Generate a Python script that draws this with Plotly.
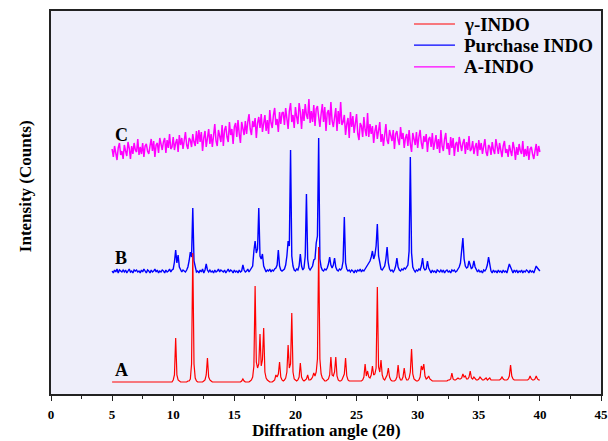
import numpy as np
import plotly.graph_objects as go

# 2-theta scan grid shared by the three patterns: 5.0 ... 40.0 deg, step 0.1
scan_start = 5.0
scan_step = 0.1
scan_points = 351
two_theta = np.round(scan_start + scan_step * np.arange(scan_points), 1)

series_names = ["γ-INDO", "Purchase INDO", "A-INDO"]
series_colors = ["#FF0000", "#0000FF", "#FF00FF"]
curve_labels = ["A", "B", "C"]

# A : gamma-INDO (red), one row per degree
A_counts = [
    12, 12, 12, 12, 12, 12, 12, 12, 12, 12,
    12, 12, 12, 12, 12, 12, 12, 12, 12, 12,
    12, 12, 12, 12, 12, 12, 12, 12, 12, 12,
    12, 12, 12, 12, 12, 12, 12, 12, 12, 12,
    12, 12, 12, 12, 12, 12, 12, 12, 12, 12,
    14, 19, 56, 19, 14, 13, 12, 12, 12, 12,
    12, 12, 13, 13, 15, 30, 141, 30, 16, 13,
    12, 12, 12, 12, 12, 13, 14, 19, 36, 17,
    14, 13, 12, 12, 12, 12, 12, 12, 12, 12,
    12, 12, 12, 12, 12, 12, 12, 12, 12, 12,
    12, 12, 12, 12, 12, 12, 13, 15, 13, 12,
    12, 12, 12, 13, 14, 17, 28, 108, 32, 26,
    30, 60, 28, 34, 66, 22, 16, 14, 13, 12,
    12, 12, 13, 14, 19, 17, 20, 32, 17, 14,
    13, 14, 16, 22, 49, 26, 30, 81, 22, 15,
    14, 13, 14, 17, 31, 17, 14, 13, 14, 15,
    19, 14, 14, 15, 17, 21, 18, 22, 35, 147,
    35, 20, 16, 14, 13, 13, 14, 15, 19, 37,
    19, 18, 22, 37, 18, 14, 13, 13, 14, 17,
    20, 36, 18, 14, 13, 13, 13, 13, 13, 13,
    13, 13, 13, 13, 13, 14, 17, 30, 18, 23,
    17, 16, 19, 28, 19, 20, 26, 107, 27, 22,
    34, 19, 15, 14, 16, 19, 26, 17, 14, 13,
    13, 13, 14, 17, 29, 17, 14, 14, 17, 26,
    17, 14, 14, 16, 22, 45, 20, 15, 14, 13,
    13, 14, 17, 28, 24, 30, 18, 15, 16, 18,
    15, 14, 13, 13, 13, 13, 13, 13, 13, 13,
    13, 13, 13, 13, 13, 14, 14, 15, 21, 15,
    14, 14, 15, 16, 15, 15, 16, 20, 17, 18,
    15, 15, 17, 23, 16, 15, 17, 15, 14, 14,
    15, 17, 15, 14, 14, 15, 16, 14, 15, 16,
    14, 14, 14, 14, 14, 14, 14, 14, 15, 17,
    15, 14, 14, 14, 15, 18, 29, 18, 15, 14,
    14, 14, 14, 14, 14, 14, 14, 14, 14, 14,
    14, 15, 18, 15, 14, 14, 15, 18, 15, 14,
    14,
]

# B : purchased INDO (blue)
B_counts = [
    123, 121, 124, 122, 125, 121, 124, 123, 122, 124,
    122, 124, 121, 123, 125, 122, 123, 121, 124, 123,
    124, 122, 123, 121, 124, 122, 125, 123, 121, 124,
    123, 121, 124, 122, 123, 125, 122, 124, 121, 123,
    122, 124, 123, 121, 124, 122, 123, 125, 122, 124,
    125, 132, 144, 131, 139, 127, 124, 122, 124, 123,
    122, 124, 127, 133, 142, 137, 186, 133, 126, 122,
    123, 121, 124, 122, 125, 121, 124, 130, 124, 122,
    124, 122, 123, 121, 124, 122, 123, 125, 122, 124,
    123, 122, 124, 121, 123, 125, 122, 124, 123, 121,
    124, 122, 123, 121, 124, 122, 123, 129, 124, 122,
    123, 125, 122, 124, 126, 128, 143, 153, 141, 145,
    186, 138, 135, 140, 128, 124, 122, 124, 123, 125,
    122, 124, 123, 125, 126, 129, 144, 128, 124, 123,
    124, 125, 129, 138, 153, 148, 244, 138, 128, 124,
    123, 125, 124, 128, 140, 128, 124, 126, 138, 200,
    135, 126, 124, 126, 128, 134, 135, 151, 158, 256,
    135, 127, 124, 123, 125, 124, 126, 130, 137, 129,
    126, 129, 136, 127, 124, 123, 125, 124, 126, 133,
    177, 131, 125, 123, 124, 122, 124, 123, 121, 124,
    122, 124, 123, 125, 122, 124, 123, 125, 127, 129,
    131, 133, 137, 143, 135, 139, 148, 170, 138, 129,
    125, 124, 126, 128, 135, 147, 131, 125, 123, 124,
    122, 124, 128, 136, 127, 124, 123, 125, 124, 126,
    125, 127, 129, 143, 237, 141, 127, 124, 122, 124,
    123, 125, 124, 128, 136, 126, 124, 125, 133, 126,
    123, 121, 124, 122, 123, 121, 124, 123, 122, 124,
    122, 124, 121, 123, 124, 122, 123, 121, 124, 123,
    124, 122, 123, 125, 127, 131, 143, 156, 135, 128,
    126, 127, 133, 128, 125, 127, 133, 127, 124, 122,
    124, 122, 123, 121, 124, 123, 125, 129, 137, 127,
    123, 121, 124, 122, 123, 121, 124, 122, 123, 121,
    124, 122, 123, 121, 127, 130, 127, 123, 121, 124,
    122, 124, 121, 123, 122, 124, 121, 123, 122, 124,
    123, 121, 124, 122, 123, 121, 126, 128, 126, 124,
    123,
]

# C : amorphous INDO (magenta), broad halo with noise
C_counts = [
    245, 237, 248, 240, 234, 246, 251, 239, 243, 235,
    249, 243, 238, 252, 246, 235, 248, 240, 251, 244,
    242, 255, 239, 247, 240, 251, 237, 248, 250, 243,
    240, 248, 255, 243, 253, 237, 249, 251, 241, 256,
    248, 244, 252, 256, 241, 254, 246, 260, 245, 247,
    257, 244, 251, 255, 242, 259, 249, 256, 245, 253,
    262, 249, 245, 256, 254, 247, 260, 252, 248, 263,
    250, 264, 252, 262, 243, 256, 263, 247, 259, 265,
    250, 260, 247, 262, 270, 253, 248, 264, 257, 252,
    269, 248, 264, 268, 257, 252, 272, 259, 265, 250,
    267, 271, 257, 274, 260, 251, 272, 265, 259, 273,
    260, 272, 280, 265, 259, 273, 267, 276, 256, 271,
    277, 266, 280, 262, 270, 279, 263, 274, 260, 284,
    271, 266, 279, 286, 269, 275, 262, 282, 270, 281,
    282, 269, 286, 274, 265, 283, 291, 272, 279, 266,
    287, 277, 270, 291, 282, 265, 285, 273, 290, 279,
    275, 295, 271, 283, 272, 289, 268, 285, 288, 277,
    267, 280, 290, 272, 287, 263, 281, 284, 269, 292,
    273, 267, 280, 286, 263, 283, 270, 292, 269, 272,
    279, 259, 270, 276, 256, 282, 267, 278, 261, 273,
    280, 260, 254, 271, 268, 257, 277, 264, 258, 281,
    257, 270, 260, 268, 251, 263, 269, 255, 266, 272,
    252, 260, 248, 263, 270, 254, 250, 264, 258, 253,
    264, 245, 260, 263, 254, 249, 267, 255, 261, 246,
    256, 260, 248, 264, 250, 242, 261, 255, 249, 262,
    246, 257, 264, 251, 245, 258, 252, 260, 242, 255,
    257, 247, 261, 244, 251, 259, 245, 255, 241, 264,
    248, 243, 255, 261, 245, 251, 239, 257, 246, 256,
    238, 250, 252, 242, 257, 247, 243, 251, 255, 240,
    252, 244, 258, 243, 245, 253, 240, 247, 251, 238,
    254, 244, 251, 240, 248, 255, 242, 238, 249, 247,
    239, 252, 244, 240, 255, 248, 240, 251, 243, 237,
    248, 253, 241, 245, 237, 249, 243, 238, 252, 246,
    234, 247, 239, 250, 243, 240, 253, 237, 245, 238,
    248, 234, 245, 247, 240, 235, 243, 250, 238, 248,
    242,
]

# label anchor points (2theta, counts) for the curve letters
label_x = [5.75, 5.75, 5.75]
label_y = [24, 136, 259]

x_range = [0, 45]
y_range = [0, 383]
x_ticks = [0, 5, 10, 15, 20, 25, 30, 35, 40, 45]

assert len(A_counts) == len(B_counts) == len(C_counts) == scan_points

serif = "Liberation Serif, Times New Roman, serif"

fig = go.Figure()
fig.add_trace(go.Scatter(x=two_theta, y=C_counts, mode="lines", name=series_names[2],
                         line=dict(color=series_colors[2], width=1.5)))
fig.add_trace(go.Scatter(x=two_theta, y=B_counts, mode="lines", name=series_names[1],
                         line=dict(color=series_colors[1], width=1.4)))
fig.add_trace(go.Scatter(x=two_theta, y=A_counts, mode="lines", name=series_names[0],
                         line=dict(color=series_colors[0], width=1.2)))

for lx, ly, lt in zip(label_x, label_y, curve_labels):
    fig.add_annotation(x=lx, y=ly, text=lt, showarrow=False, xanchor="center", yanchor="middle",
                       font=dict(family=serif, size=18, color="black", weight="bold"))

# legend (drawn as line samples + text, top-right inside the frame)
leg_x0, leg_x1, leg_tx = 0.66, 0.7345, 0.747
leg_rows = [0.966, 0.911, 0.854]
for name, col, ly in zip(series_names, series_colors, leg_rows):
    fig.add_shape(type="line", xref="paper", yref="paper", x0=leg_x0, x1=leg_x1, y0=ly, y1=ly,
                  line=dict(color=col, width=1.2))
    fig.add_annotation(xref="paper", yref="paper", x=leg_tx, y=ly, text=name, showarrow=False,
                       xanchor="left", yanchor="middle",
                       font=dict(family=serif, size=19, color="black", weight="bold"))

fig.add_annotation(xref="paper", yref="paper", x=0.5, y=-0.0953, text="Diffration angle (2θ)",
                   showarrow=False, xanchor="center", yanchor="middle", borderpad=0,
                   font=dict(family=serif, size=17, color="black", weight="bold"))
fig.add_annotation(xref="paper", yref="paper", x=-0.047, y=0.543, text="Intensity (Counts)",
                   showarrow=False, xanchor="center", yanchor="middle", textangle=-90,
                   font=dict(family=serif, size=17, color="black", weight="bold"))

fig.update_layout(
    width=608, height=441,
    margin=dict(l=51, r=7, t=11, b=47),
    paper_bgcolor="white",
    plot_bgcolor="#EEEEFA",
    showlegend=False,
    xaxis=dict(range=x_range, tickmode="array", tickvals=x_ticks, ticks="outside", ticklen=5,
               tickwidth=1.2, tickcolor="#222", showline=True, linecolor="#222", linewidth=1.5,
               mirror=True, showgrid=False, zeroline=False, automargin=False,
               ticklabelstandoff=3,
               tickfont=dict(family=serif, size=13, color="black", weight="bold"),
               minor=dict(dtick=2.5, ticks="outside", ticklen=3, tickcolor="#222", tickwidth=1.2)),
    yaxis=dict(range=y_range, showticklabels=False, ticks="", showline=True, linecolor="#222",
               linewidth=1.5, mirror=True, showgrid=False, zeroline=False, automargin=False),
)

fig.write_html("out.html")
